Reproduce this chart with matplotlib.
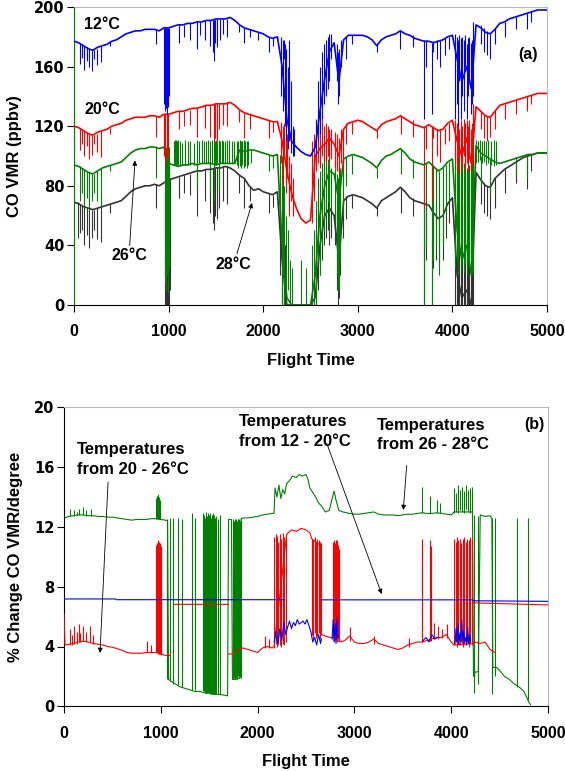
import numpy as np
import matplotlib
matplotlib.use("Agg")
import matplotlib.pyplot as plt

plt.rcParams['font.family'] = ['Liberation Sans', 'DejaVu Sans']
plt.rcParams['font.weight'] = 'bold'

nan = np.nan
BLUE, RED, GREEN, DARK = '#0000ff', '#ff0000', '#008000', '#333333'

# ---------------- panel (a): CO VMR (ppbv), read every 50 flight-time units
t_a = np.arange(0, 5001, 50)

co_12 = [177, 176, 174, 172, 171, 173, 174, 175, 177, 178,
         180, 182, 183, 184, 184, 185, 185, 185, 184, 186,
         186, 187, 188, 188, 189, 189, 190, 190, 191, 191,
         192, 192, 192, 193, 191, 188, 186, 185, 184, 183,
         182, 180, 179, 180, 160, 125, 110, 106, 103, 101,
         100, 106, 130, 152, 170, 176, 150, 178, 181, 181,
         181, 181, 180, 178, 174, 178, 180, 181, 182, 184,
         182, 181, 179, 178, 177, 177, 176, 177, 178, 180,
         181, 165, 150, 160, 145, 188, 186, 183, 182, 185,
         189, 190, 192, 193, 194, 195, 196, 197, 198, 198, 198]

co_20 = [120, 119, 117, 115, 114, 116, 117, 118, 120, 121,
         122, 124, 125, 126, 126, 126, 127, 127, 126, 128,
         128, 129, 130, 130, 131, 132, 132, 133, 134, 134,
         135, 135, 135, 136, 134, 131, 129, 128, 127, 126,
         125, 124, 123, 123, 110, 90, 75, 65, 58, 55,
         57, 100, 105, 108, 112, 108, 100, 118, 122, 123,
         124, 123, 121, 119, 117, 121, 123, 124, 125, 127,
         125, 123, 121, 120, 119, 121, 119, 117, 118, 122,
         124, 110, 100, 112, 95, 133, 130, 127, 126, 130,
         134, 135, 136, 137, 138, 139, 140, 141, 142, 142, 142]

co_26 = [94, 93, 91, 89, 88, 90, 92, 93, 94, 95,
         96, 99, 102, 104, 105, 105, 106, 106, 105, 106,
         95, 94, 93, 94, 94, 95, 94, 95, 95, 95,
         94, 95, 95, 95, 95, 104, 103, 104, 104, 103,
         102, 101, 100, 101, 40, 5, 0, 0, 0, 0,
         0, 20, 60, 80, 90, 88, 70, 98, 100, 101,
         100, 99, 97, 95, 92, 97, 100, 101, 103, 105,
         102, 98, 96, 95, 94, 96, 93, 90, 92, 96,
         98, 50, 30, 40, 20, 107, 102, 100, 98, 96,
         95, 96, 97, 98, 99, 100, 101, 101, 102, 102, 102]

co_28 = [69, 68, 66, 65, 64, 65, 66, 67, 68, 69,
         70, 73, 76, 78, 79, 80, 80, 81, 80, 82,
         84, 85, 86, 87, 88, 89, 90, 90, 91, 91,
         92, 92, 93, 92, 90, 87, 85, 80, 77, 78,
         76, 75, 74, 76, 30, 0, 0, 0, 0, 0,
         0, 5, 40, 60, 65, 60, 30, 70, 73, 74,
         73, 72, 70, 68, 65, 70, 72, 74, 76, 79,
         76, 72, 70, 69, 68, 67, 62, 58, 60, 68,
         72, 20, 5, 10, 0, 89, 84, 80, 79, 85,
         88, 91, 93, 95, 97, 99, 100, 101, 102, 102, 102]

# short excursions (time, low, high)
spikes_12 = [(60, 162, 176), (85, 166, 175), (110, 158, 174), (135, 164, 173), (160, 160, 172),
             (185, 157, 172), (215, 165, 171), (240, 161, 172), (290, 163, 174), (380, 174, 177),
             (870, 175, 185), (950, 135, 186), (960, 130, 186), (970, 132, 186), (980, 128, 186),
             (990, 133, 186), (1000, 140, 186), (1110, 176, 188), (1160, 180, 188), (1230, 178, 189),
             (1300, 172, 190), (1330, 181, 190), (1390, 178, 191), (1440, 174, 191), (1465, 170, 191),
             (1478, 164, 191), (1495, 176, 192), (1510, 173, 192), (1540, 178, 192), (1580, 182, 192),
             (1620, 180, 192), (1740, 183, 188), (1800, 176, 186), (1860, 180, 185), (1950, 178, 183),
             (2060, 170, 180), (2100, 174, 179), (2190, 140, 180), (2205, 130, 178), (2215, 165, 178),
             (2230, 120, 175), (2245, 110, 172), (2260, 105, 160), (2275, 110, 178), (2290, 102, 150),
             (2310, 100, 120), (2330, 100, 118), (2560, 100, 125), (2580, 110, 150), (2600, 115, 160),
             (2620, 125, 170), (2640, 135, 175), (2660, 140, 178), (2680, 145, 180), (2700, 150, 182),
             (2720, 165, 182), (2780, 150, 175), (2790, 135, 170), (2805, 140, 172), (2820, 160, 178),
             (2880, 165, 180), (2940, 175, 181), (3200, 170, 176), (3450, 172, 184), (3580, 173, 181),
             (3700, 125, 178), (3720, 160, 178), (3780, 128, 176), (3800, 170, 177), (3840, 165, 178),
             (3870, 160, 178), (3920, 168, 179), (3960, 172, 180), (4030, 125, 182), (4045, 135, 180),
             (4060, 120, 178), (4075, 150, 181), (4090, 125, 179), (4105, 140, 180), (4120, 130, 178),
             (4135, 160, 181), (4150, 125, 175), (4165, 140, 179), (4180, 150, 180), (4195, 128, 176),
             (4210, 135, 178), (4220, 140, 190), (4300, 175, 188), (4330, 170, 186), (4370, 168, 184),
             (4400, 165, 182), (4450, 175, 186), (4560, 180, 190), (4670, 185, 194), (4790, 185, 196),
             (4830, 190, 197)]

spikes_20 = [(60, 104, 119), (85, 108, 118), (110, 100, 117), (135, 107, 116), (160, 98, 115),
             (185, 101, 114), (215, 108, 114), (240, 103, 115), (290, 99, 117), (380, 115, 119),
             (870, 113, 127), (950, 100, 128), (965, 98, 128), (980, 95, 128), (995, 100, 128),
             (1110, 118, 130), (1160, 120, 130), (1230, 121, 131), (1300, 113, 132), (1390, 119, 134),
             (1440, 113, 134), (1478, 108, 135), (1495, 112, 135), (1510, 110, 135), (1530, 118, 135),
             (1580, 121, 135), (1620, 120, 136), (1740, 123, 131), (1800, 112, 129), (1860, 118, 128),
             (2060, 112, 124), (2100, 116, 123), (2190, 95, 123), (2205, 80, 120), (2220, 100, 122),
             (2240, 75, 110), (2255, 85, 115), (2270, 60, 100), (2290, 70, 95), (2310, 60, 85),
             (2520, 55, 110), (2540, 70, 115), (2560, 90, 120), (2580, 95, 125), (2600, 92, 122),
             (2620, 100, 125), (2640, 95, 120), (2660, 98, 122), (2680, 100, 120), (2700, 95, 118),
             (2720, 98, 118), (2760, 92, 116), (2780, 90, 115), (2800, 88, 112), (2820, 95, 118),
             (2840, 90, 118), (2880, 108, 122), (2940, 115, 123), (3200, 112, 118), (3460, 115, 127),
             (3580, 113, 124), (3700, 65, 120), (3720, 105, 120), (3780, 70, 120), (3800, 112, 120),
             (3840, 100, 118), (3870, 96, 118), (3920, 108, 119), (3960, 110, 122), (4030, 95, 124),
             (4045, 90, 122), (4060, 100, 125), (4075, 88, 118), (4090, 96, 124), (4105, 92, 120),
             (4120, 100, 125), (4135, 90, 122), (4150, 95, 124), (4165, 90, 120), (4180, 98, 124),
             (4195, 89, 118), (4210, 93, 122), (4220, 95, 135), (4300, 118, 130), (4330, 112, 128),
             (4370, 110, 127), (4400, 113, 126), (4450, 118, 130), (4560, 125, 135), (4670, 128, 138),
             (4790, 130, 140), (4830, 135, 141)]

spikes_26 = [(0, 0, 200), (60, 70, 93), (85, 75, 92), (110, 65, 91), (135, 72, 90), (160, 63, 89),
             (185, 70, 88), (215, 75, 88), (240, 70, 90), (290, 66, 92), (380, 90, 94), (870, 85, 106),
             (960, 15, 106), (970, 10, 106), (980, 20, 106), (990, 8, 106), (1000, 25, 106), (1005, 40, 100),
             (1055, 94, 110), (1065, 94, 111), (1075, 93, 111), (1085, 94, 110), (1095, 94, 111),
             (1120, 93, 110), (1145, 94, 109), (1170, 94, 111), (1200, 94, 110), (1230, 94, 110),
             (1265, 94, 109), (1300, 80, 111), (1325, 95, 110), (1350, 95, 111), (1375, 95, 110),
             (1400, 95, 110), (1420, 95, 111), (1440, 75, 110), (1455, 95, 111), (1478, 70, 111),
             (1490, 94, 110), (1500, 94, 111), (1515, 95, 110), (1530, 78, 111), (1545, 95, 110),
             (1560, 95, 111), (1580, 95, 110), (1600, 95, 110), (1620, 95, 111), (1640, 95, 111),
             (1665, 95, 110), (1690, 95, 110),
             (1720, 94, 110), (1735, 92, 110), (1750, 93, 111), (1765, 92, 110), (1780, 94, 110),
             (1795, 92, 111), (1810, 93, 110), (1825, 92, 110), (1840, 94, 110), (1870, 95, 104),
             (2060, 90, 101), (2100, 92, 100), (2180, 60, 101), (2195, 0, 100), (2210, 20, 90),
             (2225, 0, 80), (2240, 0, 60), (2260, 10, 50), (2280, 0, 30), (2300, 0, 25), (2400, 0, 30),
             (2450, 0, 25), (2520, 0, 40), (2540, 0, 50), (2560, 0, 70), (2580, 30, 85), (2600, 20, 90),
             (2620, 40, 95), (2640, 50, 98), (2660, 60, 100), (2680, 70, 98), (2700, 50, 95), (2720, 65, 92),
             (2760, 55, 92), (2780, 20, 88), (2790, 10, 85), (2800, 10, 90), (2815, 30, 92), (2840, 60, 98),
             (2880, 80, 100), (2940, 88, 101), (3200, 85, 92), (3460, 88, 105), (3580, 85, 98),
             (3700, 0, 95), (3720, 40, 95), (3780, 0, 96), (3800, 30, 94), (3830, 40, 92), (3860, 20, 90),
             (3900, 40, 92), (3930, 60, 94), (3960, 70, 96), (4030, 25, 98), (4045, 30, 95), (4060, 20, 100),
             (4075, 35, 90), (4090, 25, 96), (4105, 30, 98), (4120, 22, 95), (4135, 28, 100), (4150, 20, 92),
             (4165, 30, 97), (4180, 25, 94), (4195, 28, 96), (4210, 22, 95), (4220, 20, 108),
             (4250, 95, 111), (4270, 96, 110), (4290, 97, 111), (4310, 95, 110), (4330, 96, 111),
             (4350, 94, 110), (4380, 95, 111), (4410, 94, 110), (4440, 93, 111), (4460, 94, 110),
             (4300, 80, 100), (4400, 75, 98), (4670, 88, 99), (4790, 85, 101)]

spikes_28 = [(40, 45, 69), (60, 48, 68), (85, 50, 67), (110, 40, 66), (135, 47, 65), (160, 38, 64),
             (185, 45, 64), (215, 50, 64), (240, 44, 65), (290, 42, 66), (380, 62, 68), (870, 65, 81),
             (960, 0, 82), (970, 0, 83), (980, 0, 83), (990, 0, 84), (1000, 0, 84), (1010, 10, 85),
             (1110, 72, 86), (1160, 75, 87), (1230, 74, 88), (1300, 60, 90), (1390, 70, 91), (1440, 62, 91),
             (1465, 55, 91), (1478, 50, 92), (1495, 60, 92), (1510, 58, 92), (1530, 65, 92), (1580, 70, 93),
             (1620, 68, 93), (1740, 75, 88), (1800, 65, 85), (1860, 70, 80), (2060, 62, 75), (2100, 66, 74),
             (2180, 20, 76), (2200, 0, 70), (2215, 0, 50), (2230, 0, 40), (2560, 0, 50), (2580, 10, 65),
             (2600, 20, 70), (2620, 30, 75), (2640, 40, 72), (2660, 45, 75), (2680, 50, 70), (2700, 40, 68),
             (2720, 45, 66), (2760, 40, 65), (2780, 10, 63), (2790, 0, 60), (2800, 5, 62), (2815, 20, 66),
             (2840, 45, 70), (2880, 58, 73), (2940, 65, 74), (3200, 60, 66), (3460, 62, 79), (3580, 60, 72),
             (3700, 0, 69), (3720, 30, 68), (3780, 0, 67), (3800, 25, 65), (3830, 30, 60), (3860, 28, 58),
             (3900, 30, 60), (3930, 45, 66), (3960, 55, 70), (4030, 0, 75), (4045, 0, 70), (4060, 0, 72),
             (4075, 0, 65), (4090, 0, 70), (4105, 0, 68), (4120, 0, 72), (4135, 0, 66), (4150, 0, 70),
             (4165, 0, 65), (4180, 0, 68), (4195, 0, 60), (4210, 0, 62), (4220, 0, 90), (4300, 68, 84),
             (4330, 62, 82), (4370, 60, 80), (4400, 58, 79), (4450, 65, 85), (4560, 75, 91), (4670, 82, 96),
             (4790, 78, 100), (4830, 90, 101)]

# ---------------- panel (b): % change CO VMR per degree
pct_12_20_t = [0, 530, 540, 2280, 2280, 2660, 4220, 4230, 5000]
pct_12_20 = [7.18, 7.18, 7.13, 7.13, nan, 7.12, 7.12, 7.06, 7.02]

pct_12_20_low_t = [2170, 2190, 2210, 2230, 2250, 2270, 2290, 2310, 2330, 2350, 2370, 2390, 2410,
                   2430, 2450, 2470, 2490, 2510, 2530, 2550, 2570, 2590, 2610, 2630, 2650, 2660, 2660,
                   2770, 2780, 2790, 2800, 2810, 2820, 2830, 2830,
                   3710, 3740, 3770, 3800, 3830, 3860, 3860,
                   4040, 4050, 4060, 4070, 4080, 4090, 4100, 4110, 4120, 4130, 4140, 4150, 4160,
                   4170, 4180, 4190, 4200]
pct_12_20_low = [4.3, 5.0, 4.1, 5.2, 4.4, 5.6, 4.8, 5.3, 5.7, 5.2, 5.6, 5.4, 5.8,
                 5.5, 5.6, 5.7, 5.5, 5.8, 5.4, 5.0, 4.3, 4.6, 4.1, 4.8, 4.2, 4.5, nan,
                 4.5, 5.8, 4.3, 5.5, 4.2, 5.9, 4.6, nan,
                 4.4, 4.6, 4.3, 4.8, 4.5, 4.6, nan,
                 4.2, 5.2, 4.3, 5.5, 4.1, 4.9, 4.4, 5.8, 4.2, 5.0, 4.3, 4.6, 4.1,
                 5.3, 4.2, 4.8, 4.3]

pct_20_26_t = [0, 10, 50, 100, 150, 200, 250, 300, 350, 400, 450, 500, 550, 600, 650, 700, 750,
               800, 850, 900, 950, 1000, 1050, 1100, 1100, 1700, 1750, 1800, 1850, 1900, 1950,
               2000, 2050, 2100, 2150, 2170, 2300, 2350, 2400, 2450, 2500, 2540, 2560, 2600,
               2640, 2660, 2700, 2750, 2780, 2850, 2900, 2950, 3000, 3050, 3100, 3150, 3200,
               3250, 3300, 3350, 3400, 3450, 3500, 3550, 3600, 3650, 3700, 3750, 3800, 3850,
               3900, 3950, 4000, 4030, 4220, 4250, 4300, 4350, 4400, 4450]
pct_20_26 = [6.2, 4.1, 4.15, 4.2, 4.3, 4.35, 4.3, 4.2, 4.15, 4.1, 4.0, 3.95, 3.85, 3.75, 3.6,
             3.55, 3.55, 3.55, 3.6, 3.6, 3.6, 3.5, 3.4, 3.4, nan, 3.5, 3.5, 3.8, 3.9, 3.8, 3.7,
             3.6, 3.9, 4.0, 3.9, 4.0, 11.5, 11.8, 11.7, 11.9, 11.8, 11.6, 11.2, 11.0,
             10.8, 4.8, 4.7, 4.6, 4.6, 4.3, 4.4, 4.7, 4.3, 4.2, 4.2, 4.3, 4.5,
             4.2, 4.1, 4.0, 3.9, 3.8, 3.9, 4.1, 4.2, 4.3, 4.3, 4.4, 4.5, 4.6,
             4.6, 4.8, 4.3, 4.1, 4.2, 4.3, 4.2, 4.3, 3.8, 3.6]
pct_20_26_hi_t = [1130, 1700, 1700, 4230, 5000]
pct_20_26_hi = [6.82, 6.82, nan, 6.92, 6.78]

spikes_20_26 = [(60, 4.1, 5.2), (80, 4.1, 4.8), (100, 4.2, 5.4), (130, 4.2, 5.0), (150, 4.3, 5.5),
                (170, 4.3, 4.9), (200, 4.35, 5.4), (230, 4.3, 5.0), (270, 4.3, 5.4), (300, 4.2, 4.8),
                (860, 3.6, 4.4), (900, 3.6, 4.1), (950, 3.6, 10.8), (958, 3.6, 10.9), (966, 3.6, 11.0),
                (974, 3.5, 11.1), (982, 3.5, 11.0), (990, 3.5, 10.9), (998, 3.4, 10.7), (2080, 3.9, 4.7),
                (2120, 3.9, 4.5), (2170, 3.9, 11.3), (2185, 4.2, 11.5), (2200, 4.0, 11.4), (2215, 4.3, 11.0),
                (2230, 4.1, 11.5), (2245, 4.0, 11.2), (2260, 4.2, 11.6), (2275, 4.1, 11.3), (2290, 4.3, 11.5),
                (2560, 4.8, 11.2), (2575, 4.5, 11.1), (2590, 4.9, 11.3), (2600, 4.6, 11.0), (2615, 4.7, 11.2),
                (2630, 4.9, 11.1), (2645, 4.5, 11.0), (2655, 4.8, 10.9), (2775, 4.6, 11.0), (2785, 4.4, 11.1),
                (2795, 4.7, 10.9), (2805, 4.5, 11.1), (2815, 4.6, 11.0), (2825, 4.3, 11.1), (2835, 4.5, 10.8),
                (2845, 4.4, 10.5), (2950, 4.4, 5.3), (3200, 4.2, 4.7), (3560, 4.0, 4.6), (3695, 4.3, 11.2),
                (3702, 4.3, 10.8), (3781, 4.4, 11.1), (3788, 4.4, 10.7), (3820, 4.5, 5.6), (3860, 4.5, 5.4),
                (3900, 4.6, 5.2), (3960, 4.6, 5.5), (4030, 4.1, 11.2), (4045, 4.3, 11.0), (4060, 4.0, 11.3),
                (4075, 4.2, 11.1), (4090, 4.1, 11.2), (4105, 4.3, 10.9), (4120, 4.0, 11.2), (4135, 4.2, 11.3),
                (4150, 4.1, 11.0), (4165, 4.3, 11.2), (4180, 4.0, 11.1), (4195, 4.2, 11.3), (4210, 4.1, 11.2)]

pct_26_28_t = [0, 5, 50, 100, 150, 200, 250, 300, 350, 400, 450, 500, 550, 600, 650, 700, 750,
               800, 850, 900, 950, 1000, 1050, 1070, 1080, 1100, 1150, 1200, 1250, 1300, 1350,
               1400, 1450, 1500, 1550, 1600, 1650, 1690, 1700, 1730, 1740, 1780, 1820, 1830,
               1850, 1900, 1950, 2000, 2050, 2100, 2150, 2170, 2180, 2200, 2220, 2240, 2260,
               2280, 2300, 2330, 2360, 2400, 2430, 2460, 2500, 2520, 2540, 2570, 2600, 2630,
               2660, 2700, 2740, 2770, 2790, 2810, 2840, 2880, 2950, 3000, 3050, 3100, 3150,
               3200, 3250, 3300, 3350, 3400, 3450, 3500, 3550, 3600, 3650, 3700, 3750, 3800,
               3850, 3900, 3950, 4000, 4030, 4220, 4230, 4250, 4280, 4300, 4350, 4400, 4420,
               4430, 4470, 4500, 4550, 4600, 4650, 4700, 4750, 4780, 4800, 4820]
pct_26_28 = [6.4, 12.6, 12.7, 12.75, 12.8, 12.8, 12.75, 12.75, 12.7, 12.7, 12.65, 12.65, 12.6,
             12.55, 12.5, 12.45, 12.5, 12.5, 12.5, 12.55, 12.55, 12.5, 12.45, 12.4, 1.8, 1.7,
             1.5, 1.3, 1.2, 1.1, 1.0, 1.0, 0.9, 0.9, 0.8, 0.8, 0.75, 0.7, 12.5, 12.5, 1.8, 1.8,
             1.9, 12.55, 12.6, 12.6, 12.65, 12.7, 12.8, 12.85, 12.9, 12.9, 14.6, 14.0, 14.8,
             13.9, 14.5, 14.2, 14.9, 15.1, 15.4, 15.3, 15.5, 15.4, 15.5, 15.2, 14.6, 14.3, 14.0,
             13.6, 13.4, 13.0, 13.1, 13.9, 14.4, 13.8, 13.1, 13.0, 12.9, 12.85, 12.85, 12.9,
             12.95, 13.0, 12.85, 12.8, 12.8, 12.8, 12.75, 12.8, 12.85, 12.85, 12.9, 12.95, 12.9,
             12.9, 12.95, 12.9, 12.85, 12.8, 13.0, 13.0, 2.0, 2.3, 2.3, 12.8, 12.7, 12.75, 12.6,
             2.6, 2.6, 2.4, 2.0, 1.8, 1.5, 1.3, 1.0, 0.6, 0.3, 0.1]

spikes_26_28 = [(60, 12.7, 13.2), (100, 12.75, 13.1), (130, 12.8, 13.0), (160, 12.8, 13.2),
                (200, 12.8, 13.3), (230, 12.75, 13.1), (280, 12.75, 13.2), (950, 12.5, 13.9),
                (960, 12.5, 14.1), (970, 12.5, 14.2), (980, 12.5, 14.0), (990, 12.5, 13.8),
                (1060, 1.8, 12.5), (1095, 1.7, 12.6), (1130, 1.5, 12.6), (1180, 1.4, 12.6),
                (1215, 1.3, 12.5), (1320, 1.1, 12.9), (1350, 1.1, 12.6), (1440, 1.0, 12.9),
                (1448, 1.0, 12.8), (1456, 0.9, 12.6), (1464, 0.9, 12.8), (1472, 0.9, 13.0),
                (1480, 0.9, 12.7), (1488, 0.9, 12.9), (1496, 0.9, 12.8), (1504, 0.85, 12.9),
                (1512, 0.85, 12.7), (1520, 0.85, 12.6), (1528, 0.85, 12.8), (1536, 0.8, 12.9),
                (1544, 0.8, 12.7), (1552, 0.8, 12.8), (1560, 0.8, 12.6), (1575, 0.8, 12.7),
                (1590, 0.8, 12.5), (1610, 0.8, 12.8), (1745, 1.8, 12.5),
                (1755, 1.9, 12.4), (1765, 1.8, 12.5), (1775, 1.9, 12.5), (1785, 1.8, 12.4),
                (1795, 2.0, 12.5), (1805, 1.9, 12.5), (1815, 2.0, 12.4), (1825, 1.9, 12.5),
                (3695, 12.9, 14.7), (3781, 12.9, 14.1), (3850, 12.95, 13.8), (3880, 12.95, 13.6),
                (4030, 12.9, 14.6), (4050, 13.0, 14.3), (4070, 12.9, 14.8), (4090, 13.1, 14.5),
                (4110, 13.0, 14.7), (4130, 12.9, 14.4), (4150, 13.2, 14.8), (4170, 13.0, 14.5),
                (4190, 12.9, 14.6), (4210, 13.0, 14.7), (4240, 0.9, 12.8), (4280, 1.5, 12.7),
                (4420, 0.8, 12.6), (4450, 2.0, 12.6), (4680, 1.3, 12.6), (4790, 0.4, 12.6)]


def draw(ax, t, v, spikes, color, z, lw=0.8):
    ax.plot(t, v, color=color, lw=lw, zorder=z)
    if spikes:
        st, lo, hi = zip(*spikes)
        ax.vlines(st, lo, hi, colors=color, lw=0.8, zorder=z)


def style(ax, ymax, ystep):
    ax.set_xlim(0, 5000)
    ax.set_ylim(0, ymax)
    ax.set_xticks(range(0, 5001, 1000))
    ax.set_yticks(np.arange(0, ymax + 0.1, ystep))
    ax.set_yticklabels([f'{v:g}' for v in np.arange(0, ymax + 0.1, ystep)])
    for s in ('top', 'right'):
        ax.spines[s].set_color('#b8b8b8')
        ax.spines[s].set_linewidth(0.8)
    for s in ('left', 'bottom'):
        ax.spines[s].set_color('black')
        ax.spines[s].set_linewidth(0.8)
    ax.tick_params(axis='both', direction='out', length=5, width=0.8)
    ax.tick_params(axis='x', pad=9, labelsize=11.5)
    ax.tick_params(axis='y', pad=2, labelsize=10.5)
    for lab in ax.get_xticklabels():
        lab.set_fontweight('bold')
    for lab in ax.get_yticklabels():
        lab.set_fontweight('bold')
        lab.set_family('DejaVu Sans')


fig = plt.figure(figsize=(5.65, 7.71), dpi=100)
arrow = dict(arrowstyle='-|>', color='black', lw=0.6, mutation_scale=7, shrinkA=0, shrinkB=0)
lab_kw = dict(fontsize=12, fontweight='bold')

# ---- (a)
ax1 = fig.add_axes([74 / 565, 1 - 305 / 771, 473 / 565, 298 / 771])
draw(ax1, t_a, co_28, spikes_28, DARK, 2, lw=1.2)
draw(ax1, t_a, co_26, spikes_26, GREEN, 3, lw=1.2)
draw(ax1, t_a, co_20, spikes_20, RED, 4, lw=1.2)
draw(ax1, t_a, co_12, spikes_12, BLUE, 5, lw=1.2)
style(ax1, 200, 40)
ax1.set_ylabel('CO VMR (ppbv)', **lab_kw)
ax1.yaxis.set_label_coords(-0.11, 0.5)
ax1.set_xlabel('Flight Time', **lab_kw)
ax1.xaxis.set_label_coords(0.5, -0.16)

ax1.text(106, 188, '12°C', fontsize=11.5, fontweight='bold', va='center', zorder=10)
ax1.text(116, 131, '20°C', fontsize=11.5, fontweight='bold', va='center', zorder=10)
ax1.annotate('26°C', xy=(645, 97), xytext=(582, 33), fontsize=11.5, fontweight='bold',
             ha='center', va='center', arrowprops=arrow, zorder=10)
ax1.annotate('28°C', xy=(1882, 68.5), xytext=(1690, 27.5), fontsize=11.5, fontweight='bold',
             ha='center', va='center', arrowprops=arrow, zorder=10)
ax1.text(4905, 168, '(a)', fontsize=11.5, fontweight='bold', ha='right', va='center', zorder=10)

# ---- (b)
ax2 = fig.add_axes([64 / 565, 1 - 706.3 / 771, 484 / 565, 299 / 771])
draw(ax2, pct_26_28_t, pct_26_28, spikes_26_28, GREEN, 2)
draw(ax2, pct_20_26_t, pct_20_26, spikes_20_26, RED, 3)
draw(ax2, pct_20_26_hi_t, pct_20_26_hi, None, RED, 3)
draw(ax2, pct_12_20_t, pct_12_20, None, BLUE, 4)
draw(ax2, pct_12_20_low_t, pct_12_20_low, None, BLUE, 4)
style(ax2, 20, 4)
ax2.set_ylabel('% Change CO VMR/degree', **lab_kw)
ax2.yaxis.set_label_coords(-0.085, 0.5)
ax2.set_xlabel('Flight Time', **lab_kw)
ax2.xaxis.set_label_coords(0.5, -0.16)

note = dict(fontsize=12, fontweight='bold', ha='left', va='center', linespacing=1.4)
ax2.text(134, 16.5, 'Temperatures\nfrom 20 - 26°C', **note)
ax2.annotate('', xy=(372, 3.57), xytext=(455, 15.0), arrowprops=arrow)
ax2.text(1808, 18.4, 'Temperatures\nfrom 12 - 20°C', **note)
ax2.annotate('', xy=(3282, 7.51), xytext=(2714, 17.6), arrowprops=arrow)
ax2.text(3230, 18.15, 'Temperatures\nfrom 26 - 28°C', **note)
ax2.annotate('', xy=(3505, 13.13), xytext=(3540, 16.1), arrowprops=arrow)
ax2.text(4969, 18.85, '(b)', fontsize=11.5, fontweight='bold', ha='right', va='center')

fig.savefig('out.png', dpi=100)
